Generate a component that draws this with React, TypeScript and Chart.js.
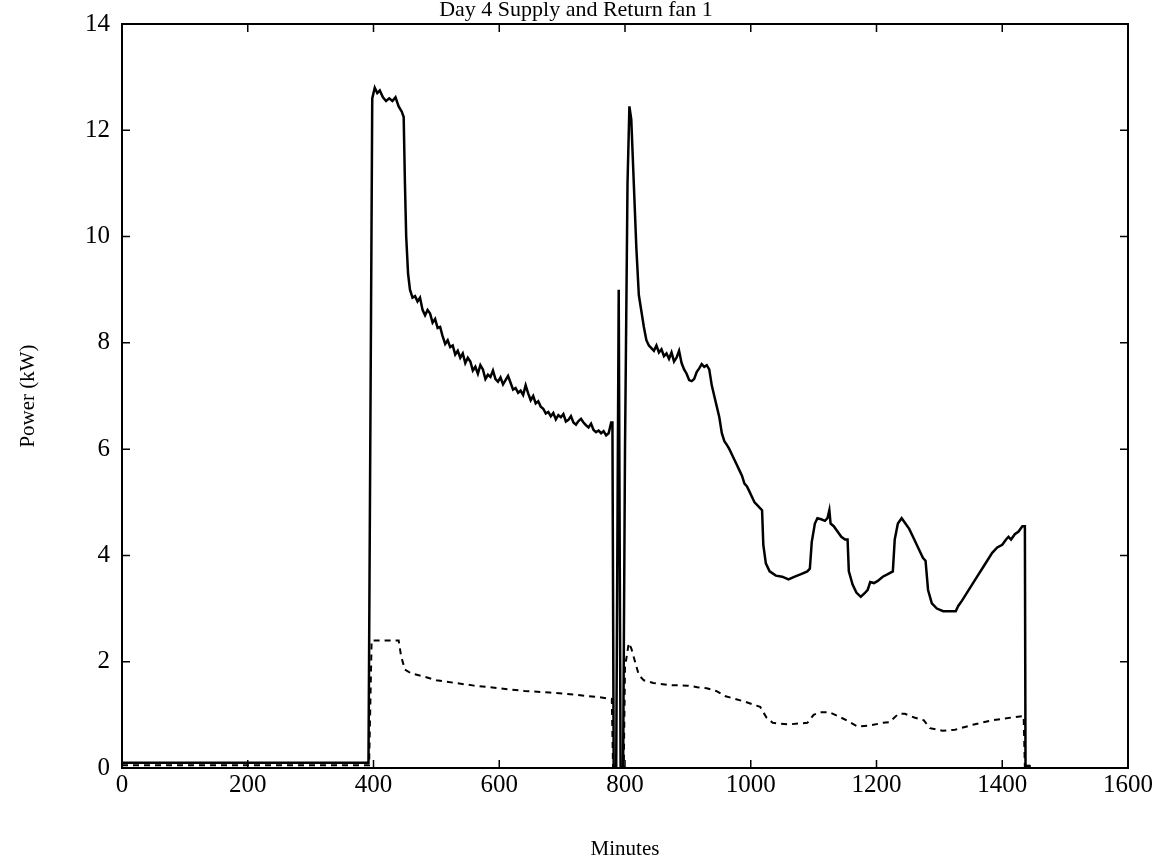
import React, { useEffect, useRef } from "react";
import { Chart, registerables } from "chart.js";

Chart.register(...registerables);

const chartTitle = "Day 4 Supply and Return fan 1";
const xAxisTitle = "Minutes";
const yAxisTitle = "Power (kW)";
const xTickValues = [0, 200, 400, 600, 800, 1000, 1200, 1400, 1600];
const yTickValues = [0, 2, 4, 6, 8, 10, 12, 14];

// Supply fan (solid line)
const supplyMinutes = [
  0, 390, 392, 398, 402, 406, 410, 415, 420, 425, 430, 435, 440, 445, 448, 450, 452, 455, 458, 462,
  466, 470, 474, 478, 482, 486, 490, 494, 498, 502, 506, 510, 514, 518, 522, 526, 530, 534, 538, 542,
  546, 550, 554, 558, 562, 566, 570, 574, 578, 582, 586, 590, 594, 598, 602, 606, 610, 614, 618, 622,
  626, 630, 634, 638, 642, 646, 650, 654, 658, 662, 666, 670, 674, 678, 682, 686, 690, 694, 698, 702,
  706, 710, 714, 718, 722, 726, 730, 734, 738, 742, 746, 750, 754, 758, 762, 766, 770, 774, 778, 780,
  782, 786, 790, 793, 797, 800, 804, 807, 810, 814, 818, 822, 826, 830, 834, 838, 842, 846, 850, 854,
  858, 862, 866, 870, 874, 878, 882, 886, 890, 894, 898, 902, 906, 910, 914, 918, 922, 926, 930, 934,
  938, 942, 946, 950, 954, 958, 962, 966, 970, 974, 978, 982, 986, 990, 994, 998, 1002, 1006, 1010, 1014,
  1018, 1020, 1024, 1030, 1040, 1050, 1060, 1070, 1080, 1090, 1094, 1097, 1102, 1106, 1112, 1118, 1122, 1125, 1127, 1132,
  1138, 1144, 1150, 1154, 1156, 1162, 1168, 1175, 1182, 1186, 1190, 1196, 1202, 1210, 1218, 1226, 1229, 1234, 1240, 1246,
  1252, 1258, 1264, 1270, 1274, 1278, 1282, 1288, 1296, 1306, 1316, 1326, 1330, 1336, 1344, 1352, 1360, 1368, 1376, 1384,
  1392, 1400, 1406, 1410, 1414, 1420, 1426, 1432, 1436, 1437, 1442,
];
const supplyKW = [
  0.1, 0.1, 0.1, 12.6, 12.8, 12.7, 12.75, 12.62, 12.55, 12.6, 12.55, 12.62, 12.45, 12.35, 12.25, 11.0, 10.0, 9.3, 9.0, 8.85,
  8.88, 8.78, 8.85, 8.62, 8.52, 8.62, 8.55, 8.38, 8.45, 8.28, 8.3, 8.12, 7.98, 8.05, 7.92, 7.95, 7.78, 7.85, 7.72, 7.8,
  7.62, 7.72, 7.65, 7.48, 7.55, 7.42, 7.58, 7.5, 7.32, 7.4, 7.36, 7.48, 7.32, 7.27, 7.35, 7.22, 7.3, 7.38, 7.25, 7.12,
  7.15, 7.06, 7.1, 7.02, 7.2, 7.05, 6.92, 7.0, 6.86, 6.9, 6.8, 6.76, 6.67, 6.7, 6.62, 6.68, 6.56, 6.64, 6.6, 6.66,
  6.52, 6.55, 6.62, 6.5, 6.46, 6.53, 6.57, 6.5, 6.45, 6.41, 6.48, 6.36, 6.32, 6.35, 6.3, 6.34, 6.26, 6.3, 6.5, 6.5,
  0, 0, 9.0, 0, 0, 6.0, 11.0, 12.45, 12.2, 11.0, 9.8, 8.9, 8.6, 8.3, 8.05, 7.95, 7.9, 7.85, 7.95, 7.82,
  7.88, 7.75, 7.8, 7.7, 7.82, 7.65, 7.72, 7.85, 7.62, 7.5, 7.42, 7.3, 7.28, 7.32, 7.45, 7.52, 7.6, 7.55, 7.58, 7.5,
  7.2, 7.0, 6.8, 6.6, 6.3, 6.15, 6.08, 6.0, 5.9, 5.8, 5.7, 5.6, 5.5, 5.35, 5.3, 5.2, 5.1, 5.0, 4.95, 4.9,
  4.85, 4.2, 3.85, 3.7, 3.62, 3.6, 3.55, 3.6, 3.65, 3.7, 3.75, 4.25, 4.6, 4.7, 4.68, 4.65, 4.7, 4.85, 4.6, 4.55,
  4.45, 4.35, 4.3, 4.3, 3.7, 3.45, 3.3, 3.22, 3.3, 3.35, 3.5, 3.48, 3.52, 3.6, 3.65, 3.7, 4.3, 4.6, 4.7, 4.6,
  4.5, 4.35, 4.2, 4.05, 3.95, 3.9, 3.35, 3.1, 3.0, 2.95, 2.95, 2.95, 3.05, 3.15, 3.3, 3.45, 3.6, 3.75, 3.9, 4.05,
  4.15, 4.2, 4.3, 4.35, 4.3, 4.4, 4.45, 4.55, 4.55, 0, 0,
];

// Return fan (dashed line)
const returnMinutes = [
  0, 390, 393, 397, 440, 444, 450, 460, 480, 500, 530, 560, 600, 640, 680, 720, 760, 779, 781, 798,
  800, 806, 810, 816, 822, 830, 845, 870, 900, 915, 930, 945, 960, 990, 1015, 1025, 1035, 1060, 1090, 1100,
  1110, 1125, 1140, 1155, 1170, 1190, 1210, 1220, 1235, 1245, 1260, 1275, 1285, 1305, 1325, 1355, 1385, 1415, 1434, 1436,
];
const returnKW = [
  0.05, 0.05, 0.05, 2.4, 2.4, 2.1, 1.85, 1.78, 1.72, 1.65, 1.6, 1.55, 1.5, 1.45, 1.42, 1.38, 1.33, 1.3, 0, 0,
  1.9, 2.35, 2.25, 2.0, 1.75, 1.65, 1.6, 1.56, 1.55, 1.52, 1.5, 1.45, 1.35, 1.25, 1.15, 0.95, 0.85, 0.82, 0.85, 1.0,
  1.05, 1.05, 0.97, 0.88, 0.78, 0.8, 0.85, 0.86, 1.02, 1.02, 0.95, 0.9, 0.75, 0.7, 0.72, 0.82, 0.9, 0.95, 0.98, 0,
];

// End marker
const markerMinutes = [1440];
const markerKW = [0];

const serif = "'Liberation Serif', 'Times New Roman', serif";

const boxTicksPlugin = {
  id: "boxTicks",
  afterDraw(chart: any) {
    const { ctx, chartArea } = chart;
    const xs = chart.scales.x;
    const ys = chart.scales.y;
    const len = 8;
    ctx.save();
    ctx.strokeStyle = "#000";
    ctx.lineWidth = 2;
    ctx.strokeRect(chartArea.left, chartArea.top, chartArea.right - chartArea.left, chartArea.bottom - chartArea.top);
    ctx.lineWidth = 1.5;
    ctx.beginPath();
    xTickValues.forEach((v) => {
      const px = xs.getPixelForValue(v);
      ctx.moveTo(px, chartArea.bottom);
      ctx.lineTo(px, chartArea.bottom - len);
      ctx.moveTo(px, chartArea.top);
      ctx.lineTo(px, chartArea.top + len);
    });
    yTickValues.forEach((v) => {
      const py = ys.getPixelForValue(v);
      ctx.moveTo(chartArea.left, py);
      ctx.lineTo(chartArea.left + len, py);
      ctx.moveTo(chartArea.right, py);
      ctx.lineTo(chartArea.right - len, py);
    });
    ctx.stroke();
    ctx.restore();
  },
};

const whiteBgPlugin = {
  id: "whiteBg",
  beforeDraw(chart: any) {
    const { ctx, width, height } = chart;
    ctx.save();
    ctx.fillStyle = "#fff";
    ctx.fillRect(0, 0, width, height);
    ctx.restore();
  },
};

export default function App() {
  const canvasRef = useRef<HTMLCanvasElement | null>(null);

  useEffect(() => {
    if (!canvasRef.current) return;
    const toPoints = (xs: number[], ys: number[]) => xs.map((x, i) => ({ x, y: ys[i] }));
    const chart = new Chart(canvasRef.current, {
      type: "line",
      data: {
        datasets: [
          {
            label: "Supply fan",
            data: toPoints(supplyMinutes, supplyKW),
            borderColor: "#000",
            borderWidth: 2.5,
            pointRadius: 0,
            tension: 0,
            fill: false,
          },
          {
            label: "Return fan",
            data: toPoints(returnMinutes, returnKW),
            borderColor: "#000",
            borderWidth: 2,
            borderDash: [6, 5],
            pointRadius: 0,
            tension: 0,
            fill: false,
          },
          {
            label: "End",
            data: toPoints(markerMinutes, markerKW),
            borderColor: "#000",
            backgroundColor: "#000",
            showLine: false,
            pointStyle: "rect",
            pointRadius: 4,
          },
        ],
      },
      options: {
        responsive: true,
        maintainAspectRatio: false,
        animation: false,
        layout: { padding: { left: 0, right: 0, top: 0, bottom: 0 } },
        plugins: {
          legend: { display: false },
          tooltip: { enabled: false },
          title: {
            display: true,
            text: chartTitle,
            color: "#000",
            font: { family: serif, size: 22, weight: "normal", lineHeight: 24 / 22 },
            padding: { top: -2, bottom: 2 },
          },
        },
        scales: {
          x: {
            type: "linear",
            min: 0,
            max: 1600,
            afterBuildTicks: (scale: any) => {
              scale.ticks = xTickValues.map((v) => ({ value: v }));
            },
            afterFit: (scale: any) => {
              scale.height = 100;
              scale.paddingLeft = 0;
              scale.paddingRight = 0;
            },
            grid: { display: false, drawTicks: false },
            border: { display: false },
            ticks: {
              color: "#000",
              padding: 2,
              font: { family: serif, size: 25 },
              maxRotation: 0,
              callback: (v: any) => String(v),
            },
            title: {
              display: true,
              text: xAxisTitle,
              color: "#000",
              font: { family: serif, size: 21 },
              padding: { top: 6, bottom: 6 },
            },
          },
          y: {
            type: "linear",
            min: 0,
            max: 14,
            afterBuildTicks: (scale: any) => {
              scale.ticks = yTickValues.map((v) => ({ value: v }));
            },
            afterFit: (scale: any) => {
              scale.width = 122;
              scale.paddingTop = 0;
              scale.paddingBottom = 0;
            },
            grid: { display: false, drawTicks: false },
            border: { display: false },
            ticks: {
              color: "#000",
              padding: 12,
              font: { family: serif, size: 25 },
              callback: (v: any) => String(v),
            },
            title: {
              display: true,
              text: yAxisTitle,
              color: "#000",
              font: { family: serif, size: 21 },
              padding: { top: 16, bottom: 16 },
            },
          },
          yRightSpace: {
            type: "linear",
            position: "right",
            min: 0,
            max: 14,
            afterFit: (scale: any) => {
              scale.width = 24;
              scale.paddingTop = 0;
              scale.paddingBottom = 0;
            },
            grid: { display: false, drawTicks: false },
            border: { display: false },
            ticks: { display: false },
          },
        },
      },
      plugins: [whiteBgPlugin, boxTicksPlugin],
    });
    return () => chart.destroy();
  }, []);

  return (
    <div style={{ position: "absolute", left: 0, top: 0, width: 1152, height: 868, background: "#fff" }}>
      <canvas ref={canvasRef} />
    </div>
  );
}
